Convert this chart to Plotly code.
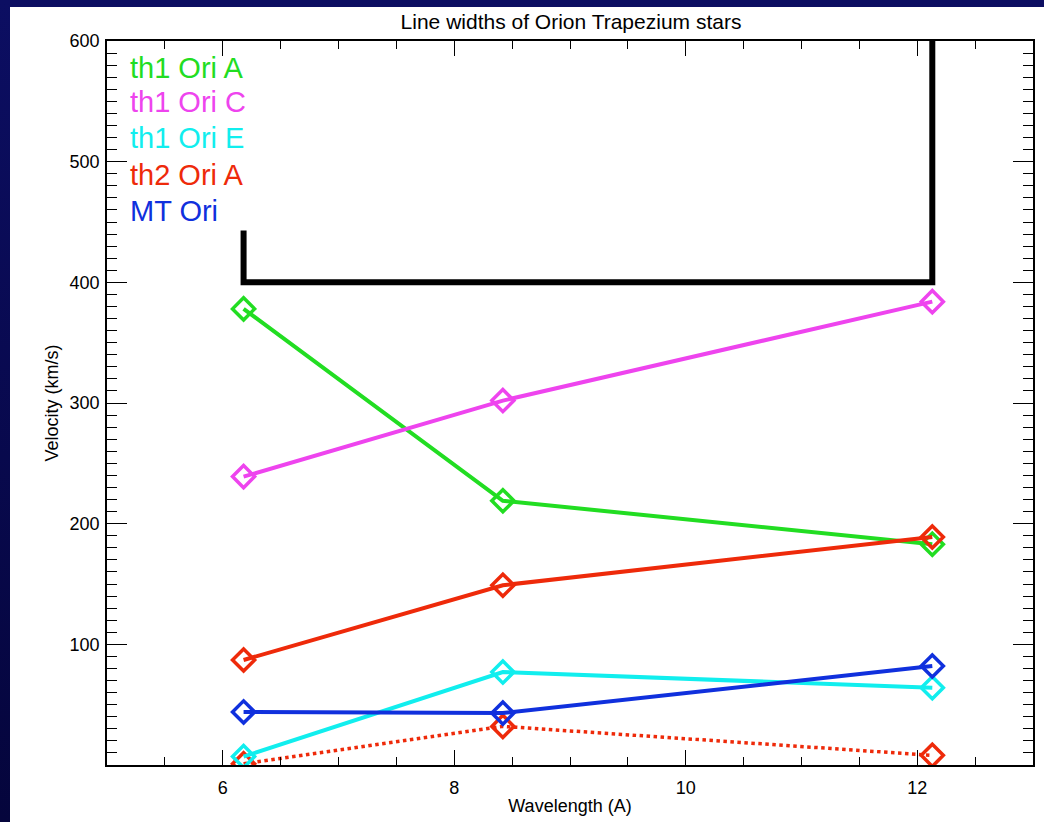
import plotly.graph_objects as go

# Data
wavelengths = [6.18, 8.42, 12.13]
th1_ori_a = [378, 219, 183]
th1_ori_c = [239, 302, 384]
th1_ori_e = [7, 77, 64]
th2_ori_a = [87, 149, 189]
mt_ori = [44, 43, 82]
th2_ori_a_dotted = [1, 32, 8]
limit_x = [6.18, 6.18, 12.13, 12.13]
limit_y = [443, 400, 400, 620]

names = ["th1 Ori A", "th1 Ori C", "th1 Ori E", "th2 Ori A", "MT Ori"]
colors = ["#22dd22", "#ee44ee", "#11eeee", "#ee2a0a", "#1030dd"]
series = [th1_ori_a, th1_ori_c, th1_ori_e, th2_ori_a, mt_ori]

y_ticks = [100, 200, 300, 400, 500, 600]
x_ticks = [6, 8, 10, 12]

# page geometry: white slide starts at (OX, OY) on a navy page
PAGE_W, PAGE_H = 1044, 822
OX, OY = 10, 7
W, H = PAGE_W - OX, PAGE_H - OY
L, R, T, B = 107 - OX, 1035 - OX, 41 - OY, 771 - OY
FONT = "Liberation Sans, Arial, Helvetica, sans-serif"

fig = go.Figure()

fig.add_trace(go.Scatter(x=limit_x, y=limit_y, mode="lines",
                         line=dict(color="black", width=6), showlegend=False))

fig.add_trace(go.Scatter(x=wavelengths, y=th2_ori_a_dotted, mode="lines+markers",
                         line=dict(color=colors[3], width=3.5, dash="dot"),
                         marker=dict(symbol="diamond-open", size=17, color=colors[3],
                                     line=dict(width=3.5, color=colors[3])),
                         showlegend=False))

for name, col, ys in zip(names, colors, series):
    fig.add_trace(go.Scatter(x=wavelengths, y=ys, mode="lines+markers", name=name,
                             line=dict(color=col, width=4),
                             marker=dict(symbol="diamond-open", size=17, color=col,
                                         line=dict(width=3.5, color=col)),
                             showlegend=False))

# legend as coloured text (page y positions)
legend_y_px = [68, 103, 139, 176, 212]
annotations = []
for name, col, py in zip(names, colors, legend_y_px):
    annotations.append(dict(x=(128 - 107) / (R - L), y=(771 - py) / (B - T), xref="paper", yref="paper",
                            text=name, showarrow=False, xanchor="left", yanchor="middle",
                            font=dict(family=FONT, size=29, color=col)))

fig.update_layout(
    width=W, height=H,
    margin=dict(l=L, r=W - R, t=T, b=H - B),
    paper_bgcolor="white", plot_bgcolor="white",
    font=dict(family=FONT, color="black"),
    title=dict(text="Line widths of Orion Trapezium stars", x=(L + R) / 2 / W, xanchor="center",
               y=1 - (22 - OY) / H, yanchor="middle", font=dict(size=21, color="black")),
    annotations=annotations,
)

fig.update_xaxes(range=[5, 13], tickvals=x_ticks, ticks="inside", ticklen=15, tickwidth=1,
                 tickcolor="black", showline=True, linecolor="black", linewidth=1.5, mirror="ticks",
                 showgrid=False, zeroline=False, tickfont=dict(size=18, color="black"),
                 minor=dict(dtick=0.5, tick0=5, ticks="inside", ticklen=8, tickcolor="black", showgrid=False),
                 title=dict(text="Wavelength (A)", font=dict(size=18, color="black"), standoff=2),
                 ticklabelstandoff=6)
fig.update_yaxes(range=[0, 600], tickvals=y_ticks, ticks="inside", ticklen=20, tickwidth=1,
                 tickcolor="black", showline=True, linecolor="black", linewidth=1.5, mirror="ticks",
                 showgrid=False, zeroline=False, tickfont=dict(size=18, color="black"),
                 minor=dict(dtick=10, tick0=0, ticks="inside", ticklen=10, tickcolor="black", showgrid=False),
                 title=dict(text="Velocity (km/s)", font=dict(size=18, color="black"), standoff=6),
                 ticklabelstandoff=2)

ps = ("var b=document.body;b.style.margin='0';b.style.padding='%dpx 0 0 %dpx';b.style.overflow='hidden';"
      "b.style.background='linear-gradient(to bottom, #0c0e62, #05053c)';"
      "document.documentElement.style.background='#05053c';") % (OY, OX)
fig.write_html("out.html", config={"displayModeBar": False}, post_script=ps)
